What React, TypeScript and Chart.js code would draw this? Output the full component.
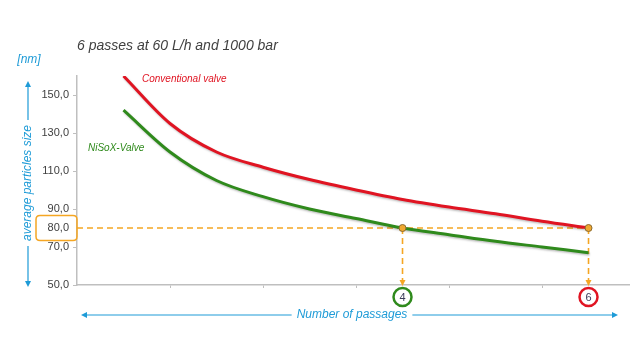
import React, { useEffect, useRef } from "react";
import { Chart, registerables } from "chart.js";

Chart.register(...registerables);

// values at whole and half passes
const passes = [1, 1.5, 2, 2.5, 3, 3.5, 4, 4.5, 5, 5.5, 6];
const conventionalValve = [160, 135, 120, 112, 105.5, 100, 95, 91, 87.5, 83.5, 80];
const nisoxValve = [142, 120, 105, 96.5, 90, 85, 80, 76.5, 73, 70, 67];
const yTicks = [50, 70, 90, 110, 130, 150];
const xTickMarks = [1.5, 2.5, 3.5, 4.5, 5.5];
const targetSize = 80;
const markedPasses = [4, 6];
const titleText = "6 passes at 60 L/h and 1000 bar";
const yTitle = "average particles size";
const yUnit = "[nm]";
const xTitle = "Number of passages";
const seriesNames = ["Conventional valve", "NiSoX-Valve"];

const FONT = "'Liberation Sans', Arial, sans-serif";
const BLUE = "#1e9bd7";
const ORANGE = "#f5a623";
const RED = "#e01422";
const GREEN = "#2f8a1c";
const GRAY_TXT = "#404040";

function arrowHead(ctx: CanvasRenderingContext2D, x: number, y: number, dir: "up" | "down" | "left" | "right", len = 6, half = 3) {
  ctx.beginPath();
  if (dir === "up") { ctx.moveTo(x, y); ctx.lineTo(x - half, y + len); ctx.lineTo(x + half, y + len); }
  if (dir === "down") { ctx.moveTo(x, y); ctx.lineTo(x - half, y - len); ctx.lineTo(x + half, y - len); }
  if (dir === "left") { ctx.moveTo(x, y); ctx.lineTo(x + len, y - half); ctx.lineTo(x + len, y + half); }
  if (dir === "right") { ctx.moveTo(x, y); ctx.lineTo(x - len, y - half); ctx.lineTo(x - len, y + half); }
  ctx.closePath();
  ctx.fill();
}

function roundRect(ctx: CanvasRenderingContext2D, x: number, y: number, w: number, h: number, r: number) {
  ctx.beginPath();
  ctx.moveTo(x + r, y);
  ctx.lineTo(x + w - r, y);
  ctx.quadraticCurveTo(x + w, y, x + w, y + r);
  ctx.lineTo(x + w, y + h - r);
  ctx.quadraticCurveTo(x + w, y + h, x + w - r, y + h);
  ctx.lineTo(x + r, y + h);
  ctx.quadraticCurveTo(x, y + h, x, y + h - r);
  ctx.lineTo(x, y + r);
  ctx.quadraticCurveTo(x, y, x + r, y);
  ctx.closePath();
}

const shadowPlugin = {
  id: "lineShadow",
  beforeDatasetDraw(chart: any) {
    const ctx = chart.ctx;
    ctx.save();
    ctx.shadowColor = "rgba(0,0,0,0.25)";
    ctx.shadowBlur = 2;
    ctx.shadowOffsetX = 1;
    ctx.shadowOffsetY = 1.5;
  },
  afterDatasetDraw(chart: any) {
    chart.ctx.restore();
  },
};

const annotPlugin = {
  id: "annot",
  beforeDatasetsDraw(chart: any) {
    const { ctx, scales, chartArea } = chart;
    const xs = scales.x;
    const ys = scales.y;
    const yT = ys.getPixelForValue(targetSize);
    ctx.save();
    ctx.strokeStyle = ORANGE;
    ctx.lineWidth = 1.6;
    ctx.setLineDash([6, 4]);
    const xEnd = xs.getPixelForValue(markedPasses[markedPasses.length - 1]);
    ctx.beginPath();
    ctx.moveTo(chartArea.left, yT);
    ctx.lineTo(xEnd, yT);
    ctx.stroke();
    markedPasses.forEach((p) => {
      const px = xs.getPixelForValue(p);
      ctx.beginPath();
      ctx.moveTo(px, yT);
      ctx.lineTo(px, chartArea.bottom - 4);
      ctx.stroke();
    });
    ctx.setLineDash([]);
    ctx.fillStyle = ORANGE;
    markedPasses.forEach((p) => {
      const px = xs.getPixelForValue(p);
      arrowHead(ctx, px, chartArea.bottom + 1, "down", 6, 3);
    });
    ctx.restore();
  },
  afterDatasetsDraw(chart: any) {
    const { ctx, scales, chartArea } = chart;
    const xs = scales.x;
    const ys = scales.y;
    const yT = ys.getPixelForValue(targetSize);
    ctx.save();
    markedPasses.forEach((p) => {
      const px = xs.getPixelForValue(p);
      ctx.beginPath();
      ctx.arc(px, yT, 3.5, 0, Math.PI * 2);
      ctx.fillStyle = "#f0a830";
      ctx.fill();
      ctx.lineWidth = 1;
      ctx.strokeStyle = "#8a6a30";
      ctx.stroke();
    });
    const circleColors = [GREEN, RED];
    markedPasses.forEach((p, i) => {
      const px = xs.getPixelForValue(p);
      const cy = chartArea.bottom + 12;
      ctx.beginPath();
      ctx.arc(px, cy, 9, 0, Math.PI * 2);
      ctx.fillStyle = "#ffffff";
      ctx.fill();
      ctx.lineWidth = 2.5;
      ctx.strokeStyle = circleColors[i];
      ctx.stroke();
      ctx.fillStyle = "#3c3c5a";
      ctx.font = `11px ${FONT}`;
      ctx.textAlign = "center";
      ctx.textBaseline = "middle";
      ctx.fillText(String(p), px, cy + 0.5);
    });
    ctx.lineWidth = 1.5;
    ctx.strokeStyle = ORANGE;
    roundRect(ctx, 36, yT - 12.5, 41, 25, 4);
    ctx.stroke();
    ctx.fillStyle = GRAY_TXT;
    ctx.font = `11px ${FONT}`;
    ctx.textAlign = "right";
    ctx.textBaseline = "middle";
    ctx.fillText(targetSize.toFixed(1).replace(".", ","), 69, yT);

    ctx.fillStyle = GRAY_TXT;
    ctx.font = `italic 14px ${FONT}`;
    ctx.textAlign = "left";
    ctx.textBaseline = "middle";
    ctx.fillText(titleText, 77, 46);

    ctx.font = `italic 10px ${FONT}`;
    ctx.fillStyle = RED;
    ctx.fillText(seriesNames[0], 142, 79);
    ctx.fillStyle = GREEN;
    ctx.fillText(seriesNames[1], 88, 148);

    ctx.fillStyle = BLUE;
    ctx.font = `italic 12px ${FONT}`;
    ctx.textAlign = "center";
    ctx.fillText(yUnit, 29, 60);

    const ax = 28;
    const yTop = 81;
    const yBot = 287;
    const yMid = 183;
    ctx.font = `italic 12px ${FONT}`;
    const tw = ctx.measureText(yTitle).width;
    ctx.save();
    ctx.translate(ax, yMid);
    ctx.rotate(-Math.PI / 2);
    ctx.textAlign = "center";
    ctx.textBaseline = "middle";
    ctx.fillText(yTitle, 0, 0);
    ctx.restore();
    ctx.strokeStyle = BLUE;
    ctx.lineWidth = 1.2;
    ctx.beginPath();
    ctx.moveTo(ax, yTop + 4);
    ctx.lineTo(ax, yMid - tw / 2 - 5);
    ctx.moveTo(ax, yMid + tw / 2 + 5);
    ctx.lineTo(ax, yBot - 4);
    ctx.stroke();
    arrowHead(ctx, ax, yTop, "up", 6, 3);
    arrowHead(ctx, ax, yBot, "down", 6, 3);

    const xl = 81;
    const xr = 618;
    const xy = 315;
    const xMid = 352;
    ctx.font = `italic 12px ${FONT}`;
    const xw = ctx.measureText(xTitle).width;
    ctx.textAlign = "center";
    ctx.textBaseline = "middle";
    ctx.fillText(xTitle, xMid, xy);
    ctx.beginPath();
    ctx.moveTo(xl + 4, xy);
    ctx.lineTo(xMid - xw / 2 - 5, xy);
    ctx.moveTo(xMid + xw / 2 + 5, xy);
    ctx.lineTo(xr - 4, xy);
    ctx.stroke();
    arrowHead(ctx, xl, xy, "left", 6, 3);
    arrowHead(ctx, xr, xy, "right", 6, 3);
    ctx.restore();
  },
};

export default function App() {
  const ref = useRef<HTMLCanvasElement | null>(null);
  useEffect(() => {
    if (!ref.current) return;
    const chart = new Chart(ref.current, {
      type: "line",
      data: {
        datasets: [
          {
            label: seriesNames[0],
            data: passes.map((p, i) => ({ x: p, y: conventionalValve[i] })),
            borderColor: RED,
            borderWidth: 3,
            pointRadius: 0,
            cubicInterpolationMode: "monotone",
            fill: false,
          },
          {
            label: seriesNames[1],
            data: passes.map((p, i) => ({ x: p, y: nisoxValve[i] })),
            borderColor: GREEN,
            borderWidth: 3,
            pointRadius: 0,
            cubicInterpolationMode: "monotone",
            fill: false,
          },
        ],
      },
      options: {
        animation: false,
        responsive: false,
        maintainAspectRatio: false,
        layout: { padding: { top: 76, left: 0, right: 0, bottom: 0 } },
        plugins: { legend: { display: false }, tooltip: { enabled: false }, title: { display: false } },
        scales: {
          x: {
            type: "linear",
            min: 0.5,
            max: 6.446,
            afterBuildTicks: (s: any) => { s.ticks = xTickMarks.map((v) => ({ value: v })); },
            afterFit: (s: any) => { s.height = 69; },
            ticks: { display: false },
            grid: { drawOnChartArea: false, drawTicks: true, tickLength: 3, color: "#bfbfbf" },
            border: { display: true, color: "#bfbfbf", width: 1.5 },
          },
          y: {
            type: "linear",
            min: 50,
            max: 160,
            afterBuildTicks: (s: any) => { s.ticks = yTicks.map((v) => ({ value: v })); },
            afterFit: (s: any) => { s.width = 77; },
            ticks: {
              padding: 4,
              color: GRAY_TXT,
              font: { family: FONT, size: 11 },
              callback: (v: any) => Number(v).toFixed(1).replace(".", ","),
            },
            grid: { drawOnChartArea: false, drawTicks: true, tickLength: 4, color: "#bfbfbf" },
            border: { display: true, color: "#bfbfbf", width: 1.5 },
          },
        },
      },
      plugins: [shadowPlugin, annotPlugin],
    } as any);
    return () => chart.destroy();
  }, []);
  return (
    <div style={{ position: "fixed", left: 0, top: 0, width: 630, height: 354, background: "#fff" }}>
      <canvas ref={ref} width={630} height={354} style={{ width: 630, height: 354, display: "block" }} />
    </div>
  );
}
